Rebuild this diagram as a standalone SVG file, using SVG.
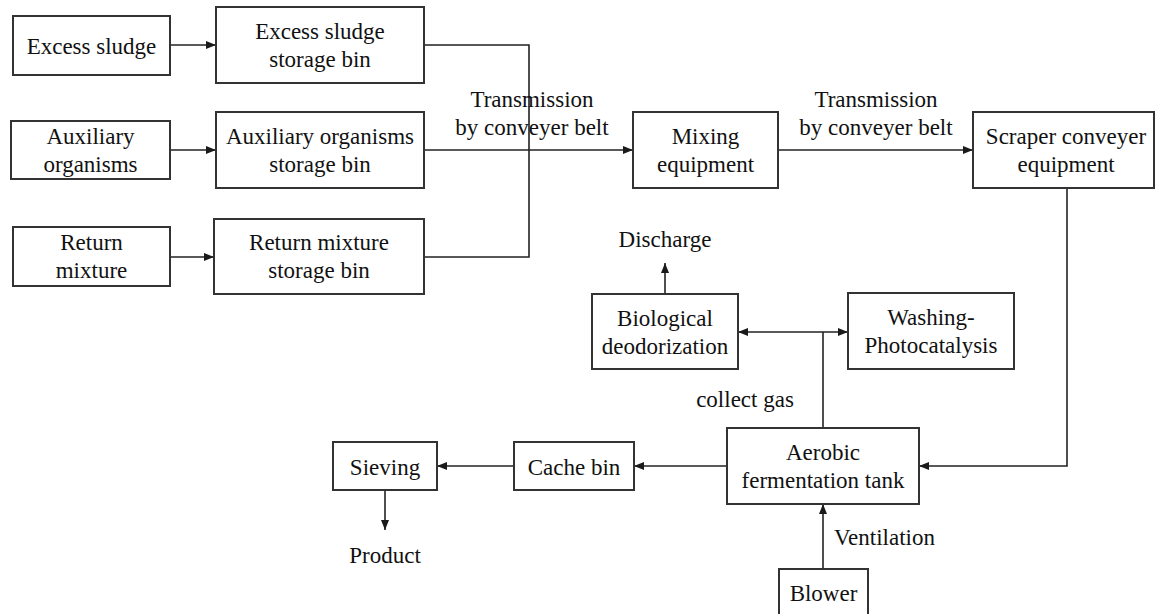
<svg xmlns="http://www.w3.org/2000/svg" width="1156" height="614" viewBox="0 0 1156 614">
<defs>
<marker id="ah" viewBox="0 0 10 8" refX="10" refY="4" markerWidth="10" markerHeight="8" markerUnits="userSpaceOnUse" orient="auto-start-reverse">
<path d="M0,0 L10,4 L0,8 z" fill="#1a1a1a"/>
</marker>
<style>
.box{fill:#ffffff;stroke:#333333;stroke-width:2}
.t{font-family:"Liberation Serif","Times New Roman",serif;font-size:23px;fill:#111111;text-anchor:middle}
.tl{font-family:"Liberation Serif","Times New Roman",serif;font-size:23px;fill:#111111;text-anchor:start}
.c{fill:none;stroke:#222222;stroke-width:1.6}
.ca{fill:none;stroke:#222222;stroke-width:1.6;marker-end:url(#ah)}
.cd{fill:none;stroke:#222222;stroke-width:1.6;marker-start:url(#ah);marker-end:url(#ah)}
</style>
</defs>
<rect width="1156" height="614" fill="#ffffff"/>

<g id="connectors">
<line class="ca" x1="170" y1="45" x2="216" y2="45"/>
<line class="ca" x1="170" y1="150" x2="216" y2="150"/>
<line class="ca" x1="170" y1="257" x2="214" y2="257"/>
<polyline class="c" points="424,45 529,45 529,257 424,257"/>
<line class="ca" x1="424" y1="150" x2="633" y2="150"/>
<line class="ca" x1="778" y1="150" x2="973" y2="150"/>
<polyline class="ca" points="1067,188 1067,466 919,466"/>
<line class="ca" x1="727" y1="466" x2="634" y2="466"/>
<line class="ca" x1="514" y1="466" x2="437" y2="466"/>
<line class="ca" x1="385" y1="490" x2="385" y2="530"/>
<line class="ca" x1="823" y1="569" x2="823" y2="504"/>
<line class="c" x1="823" y1="428" x2="823" y2="332"/>
<line class="cd" x1="738" y1="332" x2="848" y2="332"/>
<line class="ca" x1="665" y1="294" x2="665" y2="263"/>
<text class="t" x="532" y="107">Transmission</text>
<text class="t" x="532" y="135">by conveyer belt</text>
<text class="t" x="876" y="107">Transmission</text>
<text class="t" x="876" y="135">by conveyer belt</text>
<text class="t" x="665" y="247">Discharge</text>
<text class="t" x="745" y="407">collect gas</text>
<text class="tl" x="834" y="545">Ventilation</text>
<text class="t" x="385" y="563">Product</text>
</g>

<g id="excess-sludge">
<rect class="box" x="13" y="16" width="157" height="59"/>
<text class="t" x="91.5" y="54">Excess sludge</text>
</g>
<g id="excess-sludge-bin">
<rect class="box" x="216" y="7" width="208" height="76"/>
<text class="t" x="320" y="39">Excess sludge</text>
<text class="t" x="320" y="67">storage bin</text>
</g>
<g id="auxiliary-organisms">
<rect class="box" x="11" y="121" width="159" height="58"/>
<text class="t" x="90.5" y="144">Auxiliary</text>
<text class="t" x="90.5" y="172">organisms</text>
</g>
<g id="auxiliary-bin">
<rect class="box" x="216" y="112" width="208" height="76"/>
<text class="t" x="320" y="144">Auxiliary organisms</text>
<text class="t" x="320" y="172">storage bin</text>
</g>
<g id="return-mixture">
<rect class="box" x="13" y="227" width="157" height="59"/>
<text class="t" x="91.5" y="250">Return</text>
<text class="t" x="91.5" y="278">mixture</text>
</g>
<g id="return-bin">
<rect class="box" x="214" y="219" width="210" height="75"/>
<text class="t" x="319" y="250">Return mixture</text>
<text class="t" x="319" y="278">storage bin</text>
</g>
<g id="mixing">
<rect class="box" x="633" y="112" width="145" height="76"/>
<text class="t" x="705.5" y="144">Mixing</text>
<text class="t" x="705.5" y="172">equipment</text>
</g>
<g id="scraper">
<rect class="box" x="973" y="112" width="181" height="76"/>
<text class="t" x="1066" y="144">Scraper conveyer</text>
<text class="t" x="1066" y="172">equipment</text>
</g>
<g id="biological">
<rect class="box" x="592" y="294" width="146" height="75"/>
<text class="t" x="665" y="326">Biological</text>
<text class="t" x="665" y="354">deodorization</text>
</g>
<g id="washing">
<rect class="box" x="848" y="293" width="166" height="76"/>
<text class="t" x="931" y="325">Washing-</text>
<text class="t" x="931" y="353">Photocatalysis</text>
</g>
<g id="aerobic">
<rect class="box" x="727" y="428" width="192" height="76"/>
<text class="t" x="823" y="460">Aerobic</text>
<text class="t" x="823" y="488">fermentation tank</text>
</g>
<g id="cache-bin">
<rect class="box" x="514" y="442" width="120" height="48"/>
<text class="t" x="574" y="475">Cache bin</text>
</g>
<g id="sieving">
<rect class="box" x="333" y="442" width="104" height="48"/>
<text class="t" x="385" y="475">Sieving</text>
</g>
<g id="blower">
<rect class="box" x="779" y="569" width="89" height="60"/>
<text class="t" x="823.5" y="601">Blower</text>
</g>
</svg>
